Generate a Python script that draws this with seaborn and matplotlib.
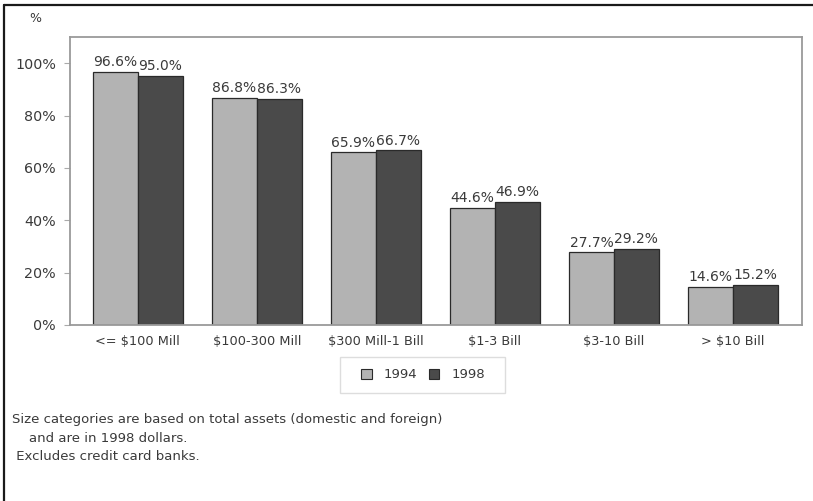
import matplotlib
matplotlib.use("Agg")
import matplotlib.pyplot as plt
from matplotlib.lines import Line2D
from matplotlib.patches import Patch, Rectangle
import seaborn as sns
import pandas as pd

# Share of banks by asset size class, 1994 vs 1998
categories = ["<= $100 Mill", "$100-300 Mill", "$300 Mill-1 Bill",
              "$1-3 Bill", "$3-10 Bill", "> $10 Bill"]
years = ["1994", "1998"]
values_1994 = [96.6, 86.8, 65.9, 44.6, 27.7, 14.6]
values_1998 = [95.0, 86.3, 66.7, 46.9, 29.2, 15.2]
y_ticks = [0, 20, 40, 60, 80, 100]
footnote = ["Size categories are based on total assets (domestic and foreign)",
            "    and are in 1998 dollars.",
            " Excludes credit card banks."]

df = pd.DataFrame({
    "category": categories * 2,
    "year": [years[0]] * len(categories) + [years[1]] * len(categories),
    "value": values_1994 + values_1998,
})

sns.set_theme(style="white")
plt.rcParams["font.family"] = ["DejaVu Sans"]
text_color = "#3a3a3a"
palette = {"1994": "#b3b3b3", "1998": "#4a4a4a"}

fig = plt.figure(figsize=(8.13, 5.01), dpi=100)
ax = fig.add_axes([70 / 813, 1 - 325 / 501, 732 / 813, 288 / 501])

sns.barplot(data=df, x="category", y="value", hue="year", order=categories,
            hue_order=years, palette=palette, width=0.756, gap=0,
            edgecolor="#2a2a2a", linewidth=0.9, saturation=1,
            legend=False, ax=ax)

for container in ax.containers:
    ax.bar_label(container, fmt="%.1f%%", padding=2, fontsize=10,
                 color=text_color)

ax.set_xlim(-0.57, 5.58)
ax.set_ylim(0, 110)
ax.set_yticks(y_ticks)
ax.set_yticklabels([f"{t}%" for t in y_ticks], fontsize=10.3, color=text_color)
ax.tick_params(axis="y", which="major", left=True, length=4, width=0.8,
               color="#aaaaaa", pad=6)
ax.tick_params(axis="x", length=0, pad=7, labelsize=9.3, labelcolor=text_color)
ax.set_xlabel("")
ax.set_ylabel("")
for side in ax.spines.values():
    side.set_visible(True)
    side.set_color("#9a9a9a")
    side.set_linewidth(1.3)

# Unit marker above the value axis
fig.text(35 / 813, 1 - 18 / 501, "%", fontsize=9, color=text_color,
         ha="center", va="center")

# Legend below the plot area, inside its own light box
fig.add_artist(Rectangle((340 / 813, 1 - 393 / 501), 165 / 813, 36 / 501,
                         transform=fig.transFigure, facecolor="none",
                         edgecolor="#dddddd", linewidth=1.0))
handles = [Patch(facecolor=palette[y], edgecolor="#2a2a2a", linewidth=0.8)
           for y in years]
fig.legend(handles, years, loc="center", ncol=2,
           bbox_to_anchor=(423 / 813, 1 - 375 / 501), fontsize=9.5,
           frameon=False, handlelength=0.8, handleheight=0.8,
           handletextpad=0.9, columnspacing=0.9, labelcolor=text_color)

# Notes
for i, line in enumerate(footnote):
    fig.text(12 / 813, 1 - (420 + 18 * i) / 501, line, fontsize=9.5,
             color=text_color, ha="left", va="center")

# Outer frame lines along the top and left edges
fig.add_artist(Line2D([4 / 813, 1], [1 - 5 / 501, 1 - 5 / 501],
                      transform=fig.transFigure, color="#1a1a1a", lw=1.6))
fig.add_artist(Line2D([4 / 813, 4 / 813], [0, 1 - 5 / 501],
                      transform=fig.transFigure, color="#1a1a1a", lw=1.6))

fig.savefig("out.png", dpi=100, facecolor="white")
